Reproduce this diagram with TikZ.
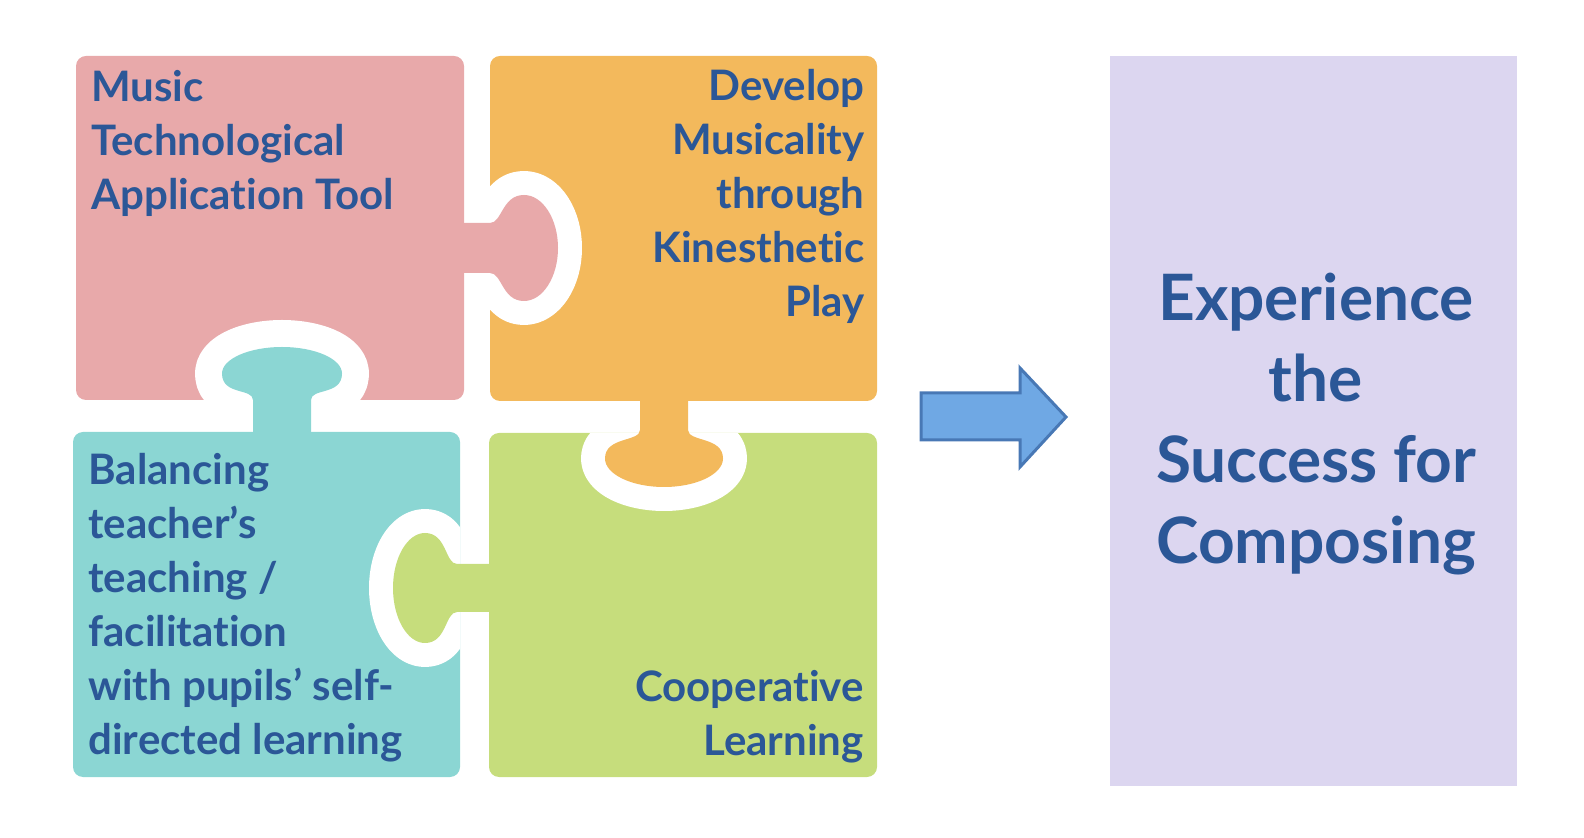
\documentclass[tikz,border=0pt]{standalone}
\usepackage{fontspec}
\setmainfont{Lato}[Ligatures=NoCommon]
\definecolor{pinkc}{HTML}{E8A9AA}
\definecolor{orangec}{HTML}{F3B95C}
\definecolor{tealc}{HTML}{8BD6D3}
\definecolor{greenc}{HTML}{C6DD7C}
\definecolor{lavc}{HTML}{DCD6F0}
\definecolor{txtc}{HTML}{2B5797}
\definecolor{arrfill}{HTML}{6FA8E4}
\definecolor{arrline}{HTML}{4878B5}
% #1 neck half width, #2 neck length, #3 bulb half width, #4 knob length
\newcommand{\knobpath}[4]{(-14,-#1) -- (#2,-#1) .. controls ({#2+12},-#1) and ({(#2+#4)/2-22},-#3) .. ({(#2+#4)/2},-#3) .. controls ({(#2+#4)/2+0.55*(#4-(#2+#4)/2)},-#3) and (#4,{-0.55*#3}) .. (#4,0) .. controls (#4,{0.55*#3}) and ({(#2+#4)/2+0.55*(#4-(#2+#4)/2)},#3) .. ({(#2+#4)/2},#3) .. controls ({(#2+#4)/2-22},#3) and ({#2+12},#1) .. (#2,#1) -- (-14,#1) -- cycle}
\tikzset{
  piece/.style={rounded corners=5pt},
  ring/.style={draw=white, line width=24pt, line join=round},
  txt/.style={text=txtc, inner sep=0pt, font=\fontsize{21}{27}\bfseries\selectfont},
  bigtxt/.style={text=txtc, inner sep=0pt, align=center, font=\fontsize{32}{40.5}\bfseries\selectfont},
}
\begin{document}
\begin{tikzpicture}[x=0.5pt,y=-0.5pt]
\useasboundingbox (0,0) rectangle (1584,838);
% pieces
\fill[pinkc, piece] (76,56) rectangle (464,400);
\fill[orangec, piece] (490,56) rectangle (877,401);
\fill[tealc, piece] (73,432) rectangle (460,777);
\fill[greenc, piece] (489,433) rectangle (877,777);
% pink knob into orange
\begin{scope}
  \clip[piece] (490,56) rectangle (877,401);
  \path[ring, shift={(464,248)}] \knobpath{25}{26}{53}{94};
\end{scope}
\fill[pinkc, shift={(464,248)}] \knobpath{25}{26}{53}{94};
% teal knob into pink
\begin{scope}
  \clip[piece] (76,56) rectangle (464,400);
  \path[ring, line width=27pt, shift={(282,432)}, rotate=90] \knobpath{29}{32}{60}{85};
\end{scope}
\fill[tealc, shift={(282,432)}, rotate=90] \knobpath{29}{32}{60}{85};
% orange knob into green
\begin{scope}
  \clip[piece] (489,433) rectangle (877,777);
  \path[ring, shift={(664,401)}, rotate=-90] \knobpath{24}{29}{59}{86};
\end{scope}
\fill[orangec, shift={(664,401)}, rotate=-90] \knobpath{24}{29}{59}{86};
% green knob into teal
\begin{scope}
  \clip[piece] (73,432) rectangle (460,777);
  \path[ring, shift={(489,588)}, rotate=180] \knobpath{24}{32}{55}{96};
\end{scope}
\fill[greenc, shift={(489,588)}, rotate=180] \knobpath{24}{32}{55}{96};
% texts
\node[txt, anchor=north west, align=left] (tpink) at (91,70) {Music\\Technological\\Application Tool};
\node[txt, anchor=north east, align=right] (torange) at (865,69) {Develop\\Musicality\\through\\Kinesthetic\\Play};
\node[txt, anchor=north west, align=left] (tteal) at (88,453) {Balancing\\teacher’s\\teaching /\\facilitation\\with pupils’ self-\\directed learning};
\node[txt, anchor=north east, align=right] (tgreen) at (864,670) {Cooperative\\Learning};
% result box
\fill[lavc] (1110,56) rectangle (1517,786);
\node[bigtxt, anchor=north] (tres) at (1316,273) {Experience\\the\\Success for\\Composing};
% arrow
\draw[fill=arrfill, draw=arrline, line width=1.5pt, line join=miter] (921,393) -- (1020,393) -- (1020,368) -- (1066,417) -- (1020,467) -- (1020,440) -- (921,440) -- cycle;
\end{tikzpicture}
\end{document}
